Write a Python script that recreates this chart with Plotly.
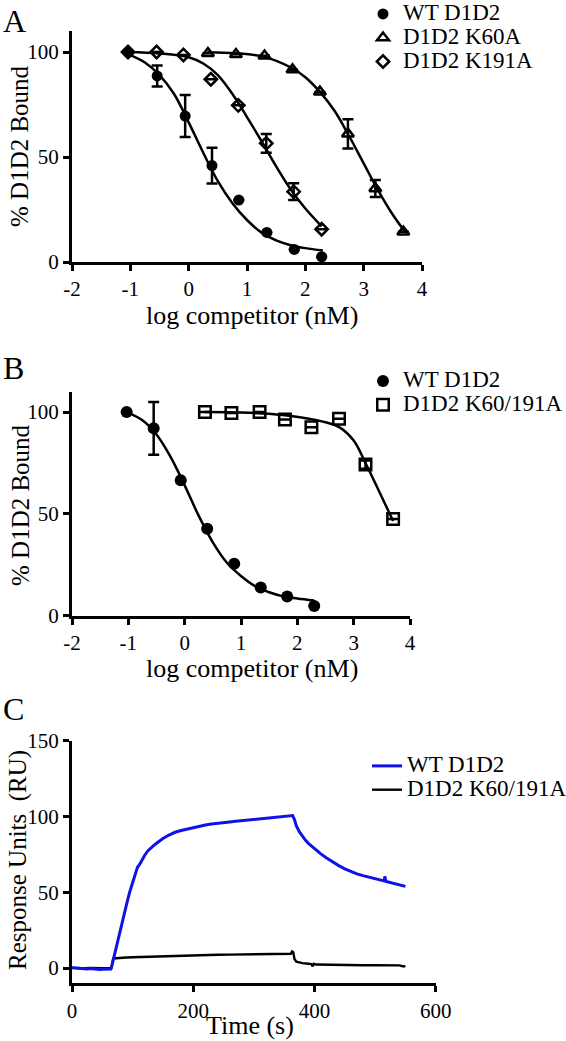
import plotly.graph_objects as go

W, H = 566, 1041
FONT = "Liberation Serif, Times New Roman, Times, serif"

# ---------------- tick labels ----------------
log_ticks = [-2, -1, 0, 1, 2, 3, 4]
log_tick_text = ["-2", "-1", "0", "1", "2", "3", "4"]
pct_ticks = [0, 50, 100]
time_ticks = [0, 200, 400, 600]
ru_ticks = [0, 50, 100, 150]

# ---------------- Panel A data ----------------
a_wt_x = [-1.04, -0.54, -0.06, 0.40, 0.86, 1.34, 1.81, 2.28]
a_wt_y = [100, 88.6, 69.5, 45.9, 29.5, 14.1, 6.0, 2.5]
a_wt_err = [0, 5, 10, 8.5, 0, 0, 0, 0]

a_k60_x = [0.33, 0.81, 1.30, 1.78, 2.25, 2.73, 3.20, 3.68]
a_k60_y = [99.4, 98.9, 98.2, 91.6, 81.0, 61.0, 35.0, 14.4]
a_k60_err = [0, 0, 0, 0, 0, 7, 4, 0]

a_k191_x = [-1.04, -0.55, -0.09, 0.38, 0.85, 1.33, 1.80, 2.28]
a_k191_y = [100, 100, 98.6, 87.0, 74.6, 56.5, 33.5, 15.6]
a_k191_err = [0, 0, 0, 0, 0, 4.5, 4, 0]

# fitted curves
a_wt_fit_x = [-1.04, -0.75, -0.5, -0.25, 0.0, 0.25, 0.5, 0.75, 1.0, 1.25, 1.5, 1.75, 2.0, 2.3]
a_wt_fit_y = [99, 95, 89, 80, 66.5, 52, 38.5, 28, 20, 14, 10.3, 8, 6.6, 5.5]
a_k60_fit_x = [0.32, 0.8, 1.28, 1.76, 2.0, 2.25, 2.5, 2.75, 3.0, 3.25, 3.5, 3.72]
a_k60_fit_y = [99.9, 99.4, 97.8, 92.5, 88, 81, 72, 60, 47, 34, 22.5, 14]
a_k191_fit_x = [-1.04, -0.5, 0.0, 0.25, 0.5, 0.75, 1.0, 1.25, 1.5, 1.75, 2.0, 2.28]
a_k191_fit_y = [100, 99.3, 97.5, 94.5, 89, 80, 69, 57.5, 45.5, 34.5, 25.5, 17]

# ---------------- Panel B data ----------------
b_wt_x = [-1.03, -0.55, -0.07, 0.40, 0.88, 1.35, 1.82, 2.30]
b_wt_y = [100, 92, 66.5, 42.7, 25.5, 13.8, 9.4, 4.8]
b_wt_err = [0, 13, 0, 0, 0, 0, 0, 0]

b_dm_x = [0.36, 0.83, 1.33, 1.78, 2.25, 2.74, 3.21, 3.70]
b_dm_y = [100, 99.6, 100, 96.4, 92.6, 96.7, 74.2, 47.5]
b_dm_err = [0, 0, 0, 0, 0, 0, 2, 0]

b_wt_fit_x = [-1.03, -0.75, -0.5, -0.25, 0.0, 0.25, 0.5, 0.75, 1.0, 1.25, 1.5, 1.75, 2.0, 2.3]
b_wt_fit_y = [100, 96, 89, 78, 64, 49, 36, 26, 19.5, 14.5, 11.5, 9.5, 8.5, 7.5]
b_dm_fit_x = [0.36, 1.0, 1.5, 1.78, 2.25, 2.5, 2.75, 3.0, 3.21, 3.47, 3.7]
b_dm_fit_y = [100, 99.8, 99.2, 98.4, 96.5, 95, 92.5, 86, 75, 60, 46.5]

# ---------------- Panel C data ----------------
c_wt_t = [0, 5, 10, 15, 20, 25, 30, 35, 40, 45, 50, 55, 60, 64, 66, 70, 75, 80, 85, 90,
          95, 100, 105, 108, 111, 115, 120, 125, 130, 135, 140, 145, 150, 160, 170, 180,
          190, 200, 210, 220, 230, 240, 250, 260, 270, 280, 290, 300, 310, 320, 330, 340,
          350, 360, 364, 367, 370, 375, 380, 385, 390, 400, 410, 420, 430, 440, 450, 460,
          470, 480, 490, 500, 510, 515, 516, 518, 520, 530, 540, 550]
c_wt_ru = [0.3, 0.1, 0.0, -0.2, -0.4, -0.5, -0.3, -0.6, -0.8, -0.9, -0.7, -0.8, -0.5, -0.6,
           2.0, 9.0, 17.0, 26.0, 34.0, 42.0, 50.0, 57.0, 62.5, 66.5, 68.0, 71.0, 74.5, 77.3,
           79.4, 81.0, 82.5, 84.0, 85.5, 87.8, 89.6, 90.8, 91.8, 92.9, 93.6, 94.4, 95.0,
           95.6, 96.0, 96.4, 96.9, 97.3, 97.7, 98.1, 98.5, 98.8, 99.2, 99.5, 99.9, 100.4,
           100.6, 98.0, 94.0, 90.0, 87.0, 84.5, 82.3, 78.6, 75.5, 72.6, 70.0, 67.6, 65.5,
           63.7, 62.2, 61.0, 60.0, 58.9, 57.9, 57.5, 60.5, 57.2, 57.0, 55.9, 55.0, 53.9]

c_dm_t = [0, 10, 20, 30, 40, 50, 60, 65, 68, 72, 80, 90, 100, 120, 140, 160, 180, 200,
          220, 240, 260, 280, 300, 320, 340, 355, 361, 363, 365, 367, 370, 375, 380, 390,
          395, 397, 399, 402, 420, 440, 460, 480, 500, 520, 540, 547, 550]
c_dm_ru = [0.2, 0.0, -0.1, 0.1, -0.2, 0.0, -0.1, 0.0, 6.4, 6.6, 6.8, 7.0, 7.2, 7.5, 7.8,
           8.1, 8.3, 8.4, 8.6, 8.8, 8.9, 9.0, 9.1, 9.2, 9.3, 9.4, 9.5, 11.0, 10.5, 6.0, 4.3,
           3.8, 3.3, 2.9, 2.7, 1.2, 2.9, 2.4, 2.2, 2.0, 2.0, 1.9, 2.0, 1.8, 1.8, 1.1, 1.5]

fig = go.Figure()

BLACK = "black"
LEG_TXT = 23


def lg(name):
    return f'<span style="font-size:{LEG_TXT}px">{name}</span>'


def err(vals):
    return dict(type="data", array=vals, visible=True, color=BLACK, thickness=2.5, width=5.5)


def add_fit(x, y, xa, ya):
    fig.add_trace(go.Scatter(x=x, y=y, mode="lines", line=dict(color=BLACK, width=2.5, shape="spline"),
                             xaxis=xa, yaxis=ya, showlegend=False, hoverinfo="skip", cliponaxis=False))


def add_pts(x, y, e, name, symbol, size, xa, ya, legend):
    if symbol == "circle":
        marker = dict(symbol=symbol, size=size, color=BLACK, line=dict(width=0))
    else:
        marker = dict(symbol=symbol + "-open", size=size, color=BLACK, line=dict(color=BLACK, width=2.5))
    fig.add_trace(go.Scatter(x=x, y=y, mode="markers", name=lg(name), marker=marker, error_y=err(e),
                             xaxis=xa, yaxis=ya, legend=legend, cliponaxis=False))


# Panel A
add_fit(a_wt_fit_x, a_wt_fit_y, "x", "y")
add_fit(a_k60_fit_x, a_k60_fit_y, "x", "y")
add_fit(a_k191_fit_x, a_k191_fit_y, "x", "y")
add_pts(a_wt_x, a_wt_y, a_wt_err, "WT D1D2", "circle", 11, "x", "y", "legend")
add_pts(a_k60_x, a_k60_y, a_k60_err, "D1D2 K60A", "triangle-up", 10.5, "x", "y", "legend")
add_pts(a_k191_x, a_k191_y, a_k191_err, "D1D2 K191A", "diamond", 9.5, "x", "y", "legend")

# Panel B
add_fit(b_wt_fit_x, b_wt_fit_y, "x2", "y2")
add_fit(b_dm_fit_x, b_dm_fit_y, "x2", "y2")
add_pts(b_wt_x, b_wt_y, b_wt_err, "WT D1D2", "circle", 12, "x2", "y2", "legend2")
add_pts(b_dm_x, b_dm_y, b_dm_err, "D1D2 K60/191A", "square", 11.5, "x2", "y2", "legend2")

# Panel C
fig.add_trace(go.Scatter(x=c_dm_t, y=c_dm_ru, mode="lines", name=lg("D1D2 K60/191A"),
                         line=dict(color=BLACK, width=2.4), xaxis="x3", yaxis="y3", legend="legend3"))
fig.add_trace(go.Scatter(x=c_wt_t, y=c_wt_ru, mode="lines", name=lg("WT D1D2"),
                         line=dict(color="#1010e8", width=3), xaxis="x3", yaxis="y3", legend="legend3"))

TICKFONT = dict(family=FONT, size=21, color=BLACK)
ax_common = dict(showline=True, linewidth=3, linecolor=BLACK, ticks="outside", ticklen=6, tickwidth=3,
                 tickcolor=BLACK, showgrid=False, zeroline=False, tickfont=TICKFONT, fixedrange=True,
                 automargin=False)


def px_x(p):
    return p / W


def px_y(p):
    return 1 - p / H


LEG = dict(font=dict(family=FONT, size=16, color=BLACK), bgcolor="rgba(0,0,0,0)", xanchor="left",
           yanchor="top", itemwidth=30, tracegroupgap=0)

fig.update_layout(
    template="none",
    width=W, height=H, margin=dict(l=0, r=0, t=0, b=0, autoexpand=False),
    paper_bgcolor="white", plot_bgcolor="white",
    font=dict(family=FONT, color=BLACK),
    xaxis=dict(domain=[px_x(72), px_x(422)], range=[-2, 4], tickvals=log_ticks, ticktext=log_tick_text, anchor="y", **ax_common),
    yaxis=dict(domain=[px_y(262), px_y(31)], range=[0, 110], tickvals=pct_ticks, anchor="x", **ax_common),
    xaxis2=dict(domain=[px_x(72), px_x(410)], range=[-2, 4], tickvals=log_ticks, ticktext=log_tick_text, anchor="y2", **ax_common),
    yaxis2=dict(domain=[px_y(615.7), px_y(391.7)], range=[0, 110], tickvals=pct_ticks, anchor="x2", **ax_common),
    xaxis3=dict(domain=[px_x(72), px_x(435.7)], range=[0, 600], tickvals=time_ticks, anchor="y3", **ax_common),
    yaxis3=dict(domain=[px_y(983.3), px_y(740.7)], range=[-10, 150], tickvals=ru_ticks, anchor="x3", **ax_common),
    legend=dict(x=px_x(363), y=px_y(-3), traceorder="normal", **LEG),
    legend2=dict(x=px_x(363), y=px_y(364), traceorder="normal", **LEG),
    legend3=dict(x=px_x(367), y=px_y(749), traceorder="reversed", **LEG),
)

ANN_FONT = dict(family=FONT, size=25, color=BLACK)
XT_FONT = dict(family=FONT, size=26, color=BLACK)
LET_FONT = dict(family=FONT, size=32, color=BLACK)
anns = [
    dict(text="A", x=px_x(1), y=px_y(21), xanchor="left", yanchor="middle", font=LET_FONT),
    dict(text="B", x=px_x(1), y=px_y(368), xanchor="left", yanchor="middle", font=LET_FONT),
    dict(text="C", x=px_x(1), y=px_y(709), xanchor="left", yanchor="middle", font=LET_FONT),
    dict(text="% D1D2 Bound", x=px_x(20), y=px_y(146), textangle=-90, xanchor="center", yanchor="middle", font=ANN_FONT),
    dict(text="log competitor (nM)", x=px_x(252), y=px_y(316), xanchor="center", yanchor="middle", font=XT_FONT),
    dict(text="% D1D2 Bound", x=px_x(20), y=px_y(505), textangle=-90, xanchor="center", yanchor="middle", font=ANN_FONT),
    dict(text="log competitor (nM)", x=px_x(252), y=px_y(668), xanchor="center", yanchor="middle", font=XT_FONT),
    dict(text="Response Units&nbsp; (RU)", x=px_x(18), y=px_y(860), textangle=-90, xanchor="center", yanchor="middle", font=ANN_FONT),
    dict(text="Time (s)", x=px_x(250), y=px_y(1025), xanchor="center", yanchor="middle", font=XT_FONT),
]
for a in anns:
    a.update(xref="paper", yref="paper", showarrow=False)
fig.update_layout(annotations=anns)

fig.write_html("out.html", config={"displayModeBar": False, "staticPlot": True},
               post_script="document.body.style.margin='0';document.body.style.overflow='hidden';")
